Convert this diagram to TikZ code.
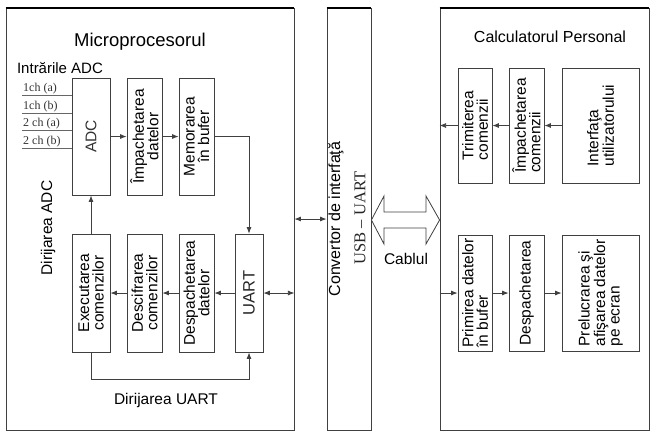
\documentclass[tikz,border=0pt]{standalone}
\usepackage{fontspec}
\setmainfont{Liberation Sans}
\newfontfamily\serifchan{Liberation Serif}
\usetikzlibrary{arrows.meta}
\begin{document}
\begin{tikzpicture}[x=1pt,y=-1pt,
 line/.style={draw=black!75, line width=0.8pt},
 outer/.style={line, rectangle, inner sep=0pt},
 blk/.style={line, rectangle, inner sep=0pt},
 arr/.style={line, -{Latex[length=6.5pt,width=5pt]}},
 darr/.style={line, {Latex[length=6.5pt,width=5pt]}-{Latex[length=6.5pt,width=5pt]}},
 btxt/.style={rotate=90, font=\fontsize{15.5}{14.5}\selectfont, align=center, inner sep=0pt},
 btxtl/.style={btxt, align=left},
 title/.style={font=\fontsize{16}{16}\selectfont, inner sep=0pt},
 chan/.style={anchor=south west, font=\serifchan\fontsize{12}{12}\selectfont, inner sep=1pt, text=black!80},
 inline/.style={draw=black!60, line width=0.7pt},
 topedge/.style={draw=black, line width=1.8pt},
]
\useasboundingbox (0,0) rectangle (651,432);

% outer blocks
\node[outer, minimum width=288pt, minimum height=422pt] (micro) at (150,219) {};
\node[outer, minimum width=44pt, minimum height=422pt] (conv) at (349,219) {};
\node[outer, minimum width=209pt, minimum height=422pt] (pc) at (544.5,219) {};
\draw[topedge] (micro.north west) -- (micro.north east);
\draw[topedge] (conv.north west) -- (conv.north east);
\draw[topedge] (pc.north west) -- (pc.north east);

% titles
\node[title, font=\fontsize{18.5}{18.5}\selectfont] (tmicro) at (140,42) {Microprocesorul};
\node[title] (tpc) at (550,37) {Calculatorul Personal};
\node[title, font=\fontsize{15}{15}\selectfont] (tin) at (60,68) {Intrările ADC};
\node[title, font=\fontsize{15.5}{15.5}\selectfont, rotate=90] (tdadc) at (48,228) {Dirijarea ADC};
\node[title, font=\fontsize{15.5}{15.5}\selectfont] (tduart) at (166,400) {Dirijarea UART};
\node[title, font=\fontsize{15.5}{15.5}\selectfont] (tcab) at (406,259) {Cablul};

% converter text
\node[rotate=90, inner sep=0pt, font=\fontsize{16}{16}\selectfont] (tconv1) at (336,219) {Convertor de interfaţă};
\node[rotate=90, inner sep=0pt, font=\serifchan\fontsize{16.5}{16.5}\selectfont, text=black!85] (tconv2) at (360,218) {USB – UART};

% microprocessor blocks
\node[blk, minimum width=38pt, minimum height=117pt] (adc) at (91,136.5) {};
\node[blk, minimum width=35pt, minimum height=117pt] (imp) at (144.5,136.5) {};
\node[blk, minimum width=35pt, minimum height=117pt] (mem) at (196.5,136.5) {};
\node[blk, minimum width=38pt, minimum height=118pt] (exe) at (91,293) {};
\node[blk, minimum width=35pt, minimum height=118pt] (desc) at (144.5,293) {};
\node[blk, minimum width=35pt, minimum height=118pt] (desp) at (196.5,293) {};
\node[blk, minimum width=28pt, minimum height=118pt] (uart) at (249,293) {};

\node[btxt, text=black!80] (adct) at (adc) {ADC};
\node[btxt] (impt) at (imp) {Împachetarea\\datelor};
\node[btxt] (memt) at (mem) {Memorarea\\în bufer};
\node[btxt] (exet) at (exe) {Executarea\\comenzilor};
\node[btxt] (desct) at (desc) {Descifrarea\\comenzilor};
\node[btxt] (despt) at (desp) {Despachetarea\\datelor};
\node[btxt, font=\fontsize{16.5}{16.5}\selectfont, text=black!85] (uartt) at (uart) {UART};

% ADC inputs
\coordinate (in1) at (22,95);
\coordinate (in2) at (22,113);
\coordinate (in3) at (22,130);
\coordinate (in4) at (22,148);
\draw[inline] (in1) -- (in1 -| adc.west);
\draw[inline] (in2) -- (in2 -| adc.west);
\draw[inline] (in3) -- (in3 -| adc.west);
\draw[inline] (in4) -- (in4 -| adc.west);
\node[chan] (c1) at (in1) {1ch (a)};
\node[chan] (c2) at (in2) {1ch (b)};
\node[chan] (c3) at (in3) {2 ch (a)};
\node[chan] (c4) at (in4) {2 ch (b)};

% microprocessor connectors
\draw[arr] (adc.east) -- (imp.west);
\draw[arr] (imp.east) -- (mem.west);
\draw[arr] (mem.east) -| (uart.north);
\draw[arr] (exe.north) -- (adc.south);
\draw[arr] (uart.west) -- (desp.east);
\draw[arr] (desp.west) -- (desc.east);
\draw[arr] (desc.west) -- (exe.east);
\draw[arr] (exe.south) -- ++(0,27) -| (uart.south);
\draw[darr] (uart.east) -- (uart.east -| micro.east);
\draw[darr] (micro.east) -- (conv.west);

% cable (hollow double arrow)
\draw[line, fill=white] (conv.east |- 0,220) -- (384,196) -- (384,212) -- (426,212) -- (426,196)
  -- (pc.west |- 0,220) -- (426,244) -- (426,228) -- (384,228) -- (384,244) -- cycle;

% PC blocks
\node[blk, minimum width=34pt, minimum height=115pt] (trim) at (475,125.5) {};
\node[blk, minimum width=35pt, minimum height=115pt] (impc) at (526.5,125.5) {};
\node[blk, minimum width=77pt, minimum height=115pt] (intf) at (600.5,125.5) {};
\node[blk, minimum width=34pt, minimum height=116pt] (prim) at (475,293) {};
\node[blk, minimum width=35pt, minimum height=116pt] (despc) at (526.5,293) {};
\node[blk, minimum width=77pt, minimum height=116pt] (prel) at (600.5,293) {};

\node[btxtl] (trimt) at (trim) {Trimiterea\\comenzii};
\node[btxtl] (impct) at (impc) {Împachetarea\\comenzii};
\node[btxtl] (intft) at (intf) {Interfaţa\\utilizatorului};
\node[btxtl] (primt) at (prim) {Primirea datelor\\în bufer};
\node[btxtl] (despct) at (despc) {Despachetarea};
\node[btxtl] (prelt) at (prel) {Prelucrarea şi\\afişarea datelor\\pe ecran};

% PC connectors
\draw[arr] (intf.west) -- (impc.east);
\draw[arr] (impc.west) -- (trim.east);
\draw[arr] (trim.west) -- (trim.west -| pc.west);
\draw[arr] (prim.west -| pc.west) -- (prim.west);
\draw[arr] (prim.east) -- (despc.west);
\draw[arr] (despc.east) -- (prel.west);
\end{tikzpicture}
\end{document}
